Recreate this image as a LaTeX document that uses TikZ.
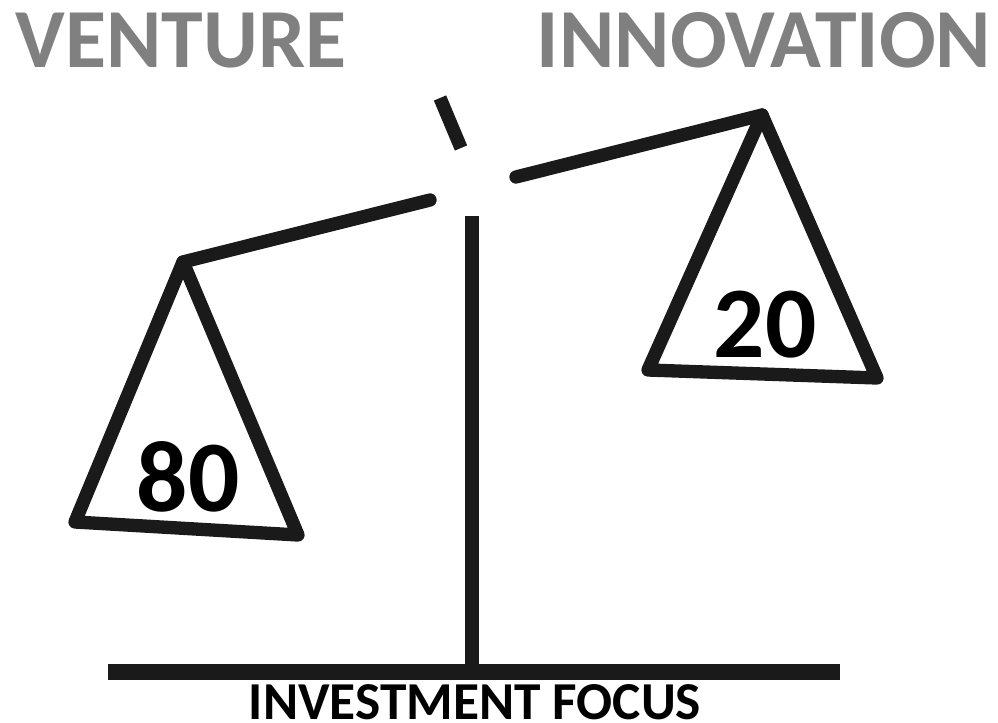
\documentclass[tikz,border=0pt]{standalone}
\usepackage{fontspec}
\setmainfont{Carlito}
\definecolor{titlegray}{HTML}{808080}
\definecolor{ink}{HTML}{1A1A1A}
\begin{document}
\begin{tikzpicture}[x=0.75pt,y=-0.75pt,
  bar/.style={draw=ink,line width=10pt,line cap=round,line join=round},
  pole/.style={draw=ink,line width=10.5pt},
  title/.style={text=titlegray,font=\bfseries\fontsize{63}{63}\selectfont,inner sep=0pt,anchor=base},
  weight/.style={text=black,font=\bfseries\fontsize{76}{76}\selectfont,inner sep=0pt,anchor=base},
  caption/.style={text=black,font=\bfseries\fontsize{40}{40}\selectfont,inner sep=0pt,text depth=0pt,anchor=base}]
\useasboundingbox (0,0) rectangle (998,723);
% titles
\node[title] (venture) at (181,68) {VENTURE};
\node[title] (innov) at (764,68) {INNOVATION};
% pointer tick
\coordinate (tickA) at (440,98);
\coordinate (tickB) at (461,148);
\draw[draw=ink,line width=10pt] (tickA) -- (tickB);
% beams
\coordinate (lapex) at (183,262);
\coordinate (lend) at (430,200);
\coordinate (rstart) at (516,177);
\coordinate (rapex) at (762,115);
\draw[bar] (lapex) -- (lend);
\draw[bar] (rstart) -- (rapex);
% left pan
\coordinate (lbl) at (75,522);
\coordinate (lbr) at (298,535);
\draw[bar] (lapex) -- (lbl) -- (lbr) -- cycle;
% right pan
\coordinate (rbl) at (648,370);
\coordinate (rbr) at (877,378);
\draw[bar] (rapex) -- (rbl) -- (rbr) -- cycle;
% pole and base
\coordinate (ptop) at (472,216);
\coordinate (pbot) at (472,672);
\coordinate (bl) at (108,672);
\coordinate (br) at (840,672);
\draw[pole] (ptop) -- (pbot);
\draw[draw=ink,line width=11.5pt] (bl) -- (br);
% weights
\node[weight] (eighty) at (188,511) {80};
\node[weight] (twenty) at (765,357) {20};
% caption
\node[caption] (focus) at (475,719) {INVESTMENT FOCUS};
\end{tikzpicture}
\end{document}
